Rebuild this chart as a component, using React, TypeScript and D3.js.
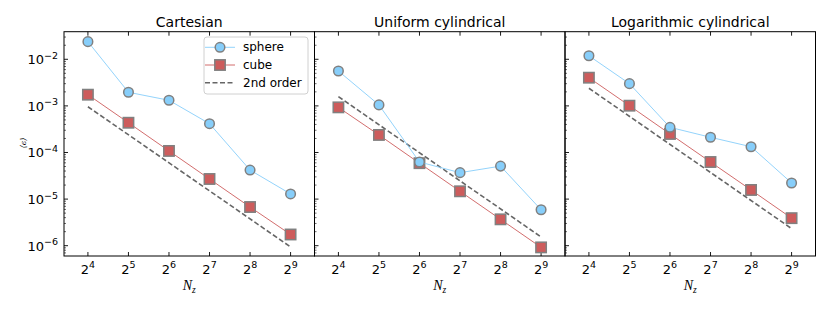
// ConvergencePanels.tsx
import React, { useEffect, useRef } from 'react';
import * as d3 from 'd3';

// grid resolutions (log2 N_z)
const exponents = [4, 5, 6, 7, 8, 9];
const panelTitles = ['Cartesian', 'Uniform cylindrical', 'Logarithmic cylindrical'];

// errors
const sphereCartesian = [2.39e-2, 1.96e-3, 1.32e-3, 4.15e-4, 4.2e-5, 1.29e-5];
const cubeCartesian = [1.74e-3, 4.35e-4, 1.08e-4, 2.7e-5, 6.76e-6, 1.74e-6];
const sphereUniform = [5.6e-3, 1.05e-3, 6.25e-5, 3.69e-5, 5.1e-5, 5.9e-6];
const cubeUniform = [9.3e-4, 2.38e-4, 5.9e-5, 1.47e-5, 3.68e-6, 9.2e-7];
const sphereLog = [1.19e-2, 3.0e-3, 3.47e-4, 2.12e-4, 1.33e-4, 2.22e-5];
const cubeLog = [4.03e-3, 1.01e-3, 2.5e-4, 6.25e-5, 1.57e-5, 3.9e-6];
// 2nd order reference line value at N = 2^4 and 2^9
const secondOrderStart = [9.6e-4, 1.58e-3, 2.39e-3];
const secondOrderEnd = [9.4e-7, 1.54e-6, 2.33e-6];

const yTickExps = [-2, -3, -4, -5, -6];
const legendLabels = ['sphere', 'cube', '2nd order'];

const SKY = '#87CEFA';
const RED = '#CD5C5C';
const EDGE = '#808080';

const App = () => {
  const svgRef = useRef<SVGSVGElement>(null);

  useEffect(() => {
    const svg = d3.select(svgRef.current);
    svg.selectAll('*').remove();

    const margin = { left: 64, top: 31.7 };
    const panelW = 250.5;
    const plotH = 224.3;
    const font = 'DejaVu Sans, sans-serif';

    const y = d3
      .scaleLog()
      .domain([Math.pow(10, -6.221), Math.pow(10, -1.408)])
      .range([margin.top + plotH, margin.top]);

    const spheres = [sphereCartesian, sphereUniform, sphereLog];
    const cubes = [cubeCartesian, cubeUniform, cubeLog];

    panelTitles.forEach((title, p) => {
      const x0 = margin.left + p * panelW;
      const x = d3
        .scaleLog()
        .base(2)
        .domain([Math.pow(2, 3.41), Math.pow(2, 9.59)])
        .range([x0, x0 + panelW]);
      const g = svg.append('g');
      const top = margin.top;
      const bottom = margin.top + plotH;

      // title
      g.append('text')
        .attr('x', x0 + panelW / 2)
        .attr('y', 26.5)
        .attr('text-anchor', 'middle')
        .attr('font-family', font)
        .attr('font-size', 14)
        .text(title);

      // x ticks (bottom + top, inward)
      exponents.forEach((e) => {
        const xv = x(Math.pow(2, e));
        g.append('line').attr('x1', xv).attr('x2', xv).attr('y1', bottom).attr('y2', bottom - 4)
          .attr('stroke', '#000').attr('stroke-width', 0.9);
        g.append('line').attr('x1', xv).attr('x2', xv).attr('y1', top).attr('y2', top + 4)
          .attr('stroke', '#000').attr('stroke-width', 0.9);
        const t = g.append('text')
          .attr('x', xv)
          .attr('y', 273.5)
          .attr('text-anchor', 'middle')
          .attr('font-family', font)
          .attr('font-size', 13);
        t.append('tspan').text('2');
        t.append('tspan').attr('dy', -5.5).attr('font-size', 9.5).text(String(e));
      });

      // y ticks on left side (inward), major + minor
      yTickExps.forEach((e) => {
        const yv = y(Math.pow(10, e));
        g.append('line').attr('x1', x0).attr('x2', x0 + 4).attr('y1', yv).attr('y2', yv)
          .attr('stroke', '#000').attr('stroke-width', 0.9);
        if (p === 0) {
          const t = g.append('text')
            .attr('x', x0 - 6)
            .attr('y', yv + 5)
            .attr('text-anchor', 'end')
            .attr('font-family', font)
            .attr('font-size', 13);
          t.append('tspan').text('10');
          t.append('tspan').attr('dy', -5.5).attr('font-size', 9.5).text(`\u2212${-e}`);
        }
      });
      for (let e = -7; e <= -2; e++) {
        for (let m = 2; m <= 9; m++) {
          const v = m * Math.pow(10, e);
          const [lo, hi] = y.domain();
          if (v < lo || v > hi) continue;
          const yv = y(v);
          g.append('line').attr('x1', x0).attr('x2', x0 + 2).attr('y1', yv).attr('y2', yv)
            .attr('stroke', '#000').attr('stroke-width', 0.6);
        }
      }

      // 2nd order dashed line
      g.append('line')
        .attr('x1', x(Math.pow(2, 4)))
        .attr('y1', y(secondOrderStart[p]))
        .attr('x2', x(Math.pow(2, 9)))
        .attr('y2', y(secondOrderEnd[p]))
        .attr('stroke', '#666666')
        .attr('stroke-width', 1.6)
        .attr('stroke-dasharray', '5,2.5');

      const line = d3
        .line<number>()
        .x((_, i) => x(Math.pow(2, exponents[i])))
        .y((d) => y(d));

      // cube
      g.append('path').attr('d', line(cubes[p])).attr('fill', 'none')
        .attr('stroke', RED).attr('stroke-width', 0.9);
      cubes[p].forEach((v, i) => {
        const cx = x(Math.pow(2, exponents[i]));
        const cy = y(v);
        g.append('rect').attr('x', cx - 5.2).attr('y', cy - 5.2).attr('width', 10.4).attr('height', 10.4)
          .attr('fill', RED).attr('stroke', EDGE).attr('stroke-width', 1.5);
      });

      // sphere
      g.append('path').attr('d', line(spheres[p])).attr('fill', 'none')
        .attr('stroke', SKY).attr('stroke-width', 0.9);
      spheres[p].forEach((v, i) => {
        g.append('circle')
          .attr('cx', x(Math.pow(2, exponents[i])))
          .attr('cy', y(v))
          .attr('r', 4.8)
          .attr('fill', SKY)
          .attr('stroke', EDGE)
          .attr('stroke-width', 1.5);
      });

      // frame
      g.append('rect').attr('x', x0).attr('y', top).attr('width', panelW).attr('height', plotH)
        .attr('fill', 'none').attr('stroke', '#000').attr('stroke-width', 1);

      // x label
      const xl = g.append('text')
        .attr('x', x0 + panelW / 2)
        .attr('y', 290)
        .attr('text-anchor', 'middle')
        .attr('font-family', 'Liberation Serif, serif')
        .attr('font-style', 'italic')
        .attr('font-size', 14);
      xl.append('tspan').text('N');
      xl.append('tspan').attr('dy', 3).attr('font-size', 9.5).text('z');
    });

    // y label
    svg.append('text')
      .attr('transform', 'translate(26,143) rotate(-90)')
      .attr('text-anchor', 'middle')
      .attr('font-family', 'DejaVu Serif, serif')
      .attr('font-style', 'italic')
      .attr('font-size', 8)
      .text('\u27E8\u03F5\u27E9');

    // legend (first panel)
    const lg = svg.append('g');
    lg.append('rect').attr('x', 204).attr('y', 37).attr('width', 104).attr('height', 57).attr('rx', 3)
      .attr('fill', '#fff').attr('fill-opacity', 0.8).attr('stroke', '#d0d0d0').attr('stroke-width', 1);
    const rows = [47.3, 65, 82.7];
    // sphere
    lg.append('line').attr('x1', 205).attr('x2', 235).attr('y1', rows[0]).attr('y2', rows[0])
      .attr('stroke', SKY).attr('stroke-width', 0.9);
    lg.append('circle').attr('cx', 220).attr('cy', rows[0]).attr('r', 4.8)
      .attr('fill', SKY).attr('stroke', EDGE).attr('stroke-width', 1.5);
    // cube
    lg.append('line').attr('x1', 205).attr('x2', 235).attr('y1', rows[1]).attr('y2', rows[1])
      .attr('stroke', RED).attr('stroke-width', 0.9);
    lg.append('rect').attr('x', 220 - 5.2).attr('y', rows[1] - 5.2).attr('width', 10.4).attr('height', 10.4)
      .attr('fill', RED).attr('stroke', EDGE).attr('stroke-width', 1.5);
    // 2nd order
    lg.append('line').attr('x1', 205).attr('x2', 235).attr('y1', rows[2]).attr('y2', rows[2])
      .attr('stroke', '#666666').attr('stroke-width', 1.6).attr('stroke-dasharray', '5,2.5');
    legendLabels.forEach((lab, i) => {
      lg.append('text')
        .attr('x', 243)
        .attr('y', rows[i] + 4)
        .attr('font-family', font)
        .attr('font-size', 12)
        .text(lab);
    });
  }, []);

  return (
    <svg
      ref={svgRef}
      width={830}
      height={312}
      style={{ position: 'absolute', left: 0, top: 0, background: 'white' }}
    />
  );
};

export default App;
